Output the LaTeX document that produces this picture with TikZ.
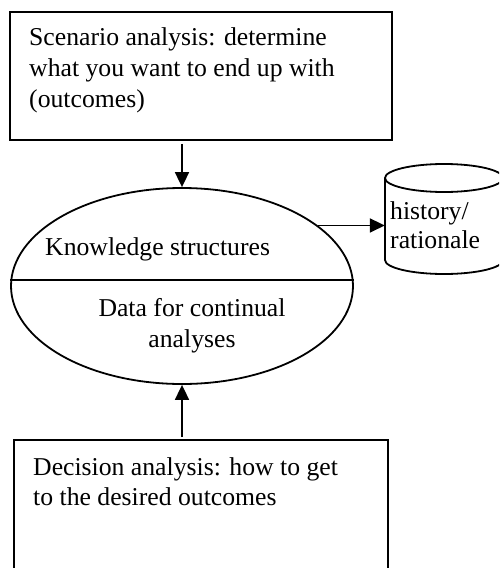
\documentclass[tikz,border=0pt]{standalone}
\usepackage{fontspec}
\setmainfont{Liberation Serif}
\usetikzlibrary{arrows.meta,calc,shapes.geometric}
\begin{document}
\begin{tikzpicture}[x=1pt,y=-1pt,
  every node/.style={font=\fontsize{25.7}{31}\selectfont},
  line/.style={line width=1.8pt},
  boxnode/.style={draw,line width=1.8pt,rectangle,anchor=north west,inner sep=0pt},
  txt/.style={inner sep=0pt,anchor=base west},
  ctxt/.style={inner sep=0pt,anchor=base},
  arr/.style={line width=1.8pt,-{Triangle[length=15pt,width=14pt]}}]
\useasboundingbox (0,0) rectangle (499,568);
\clip (0,0) rectangle (499,568);
% top box
\node[boxnode,minimum width=382pt,minimum height=128pt] (top) at (9,11) {};
\node[txt] (t1) at (29,45) {Scenario analysis: determine};
\node[txt] (t2) at (29,76) {what you want to end up with};
\node[txt] (t3) at (29,107) {(outcomes)};
% ellipse
\node[draw,ellipse,line width=1.8pt,minimum width=342pt,minimum height=196pt,inner sep=0pt] (ell) at (182,286) {};
\draw[line] ($(ell.west)+(0,-6)$) -- ($(ell.east)+(0,-6)$);
\node[txt] (k) at (45,255) {Knowledge structures};
\node[ctxt] (d1) at (192,316) {Data for continual};
\node[ctxt] (d2) at (192,347) {analyses};
% cylinder
\node[minimum width=118pt,minimum height=110pt,inner sep=0pt] (cyl) at (444,219) {};
\draw[line] (444,178) ellipse [x radius=59, y radius=14];
\draw[line] (385,178) -- (385,260) arc[start angle=180, end angle=0, x radius=59, y radius=14] -- (503,178);
\node[txt] (h1) at (390,219) {history/};
\node[txt] (h2) at (390,248) {rationale};
% bottom box
\node[boxnode,minimum width=374pt,minimum height=170pt] (bot) at (13,439) {};
\node[txt] (b1) at (33,475) {Decision analysis: how to get};
\node[txt] (b2) at (33,505) {to the desired outcomes};
% arrows
\draw[arr] (top.south -| ell.north) ++(0,3) -- (ell.north);
\draw[arr] (bot.north -| ell.south) ++(0,-2) -- (ell.south);
\draw[arr] (ell.24) -- (ell.24 -| cyl.west);
\end{tikzpicture}
\end{document}
